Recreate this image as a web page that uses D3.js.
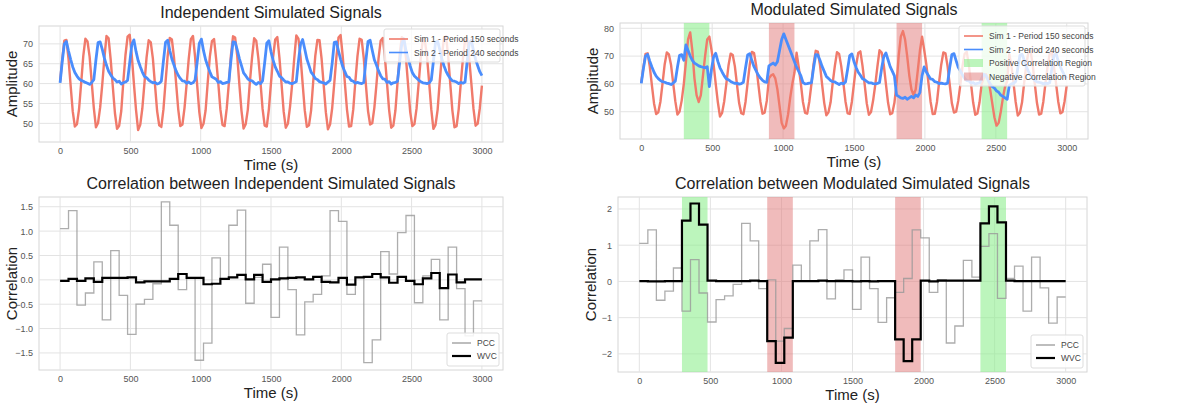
<!DOCTYPE html>
<html><head><meta charset="utf-8">
<script src="https://cdn.jsdelivr.net/npm/d3@7"></script>
<style>body{margin:0;background:#fff}svg{font-family:"Liberation Sans",Arial,sans-serif}</style>
</head><body><svg id="c" width="1189" height="403"></svg>
<script>
// time step 15 s for signals
const sim1 = [
60.5,66,70.8,71,66.2,59.5,53,49.2,49.8,53.6,
60.2,67,71.3,70.6,66.8,60.3,53.8,49,50.1,54,
59.8,66.4,72,71.4,66,59.2,52.6,48.6,49.4,53.1,
60.6,67.2,71.8,72.3,67,60,53.4,48.3,49.6,53.8,
60.1,66.6,70.9,70.4,66.3,59.7,53.1,49.5,49.1,53.5,
60.4,66.9,71.5,71.1,66.6,60.1,53.6,49.3,49.7,53.9,
59.9,66.3,71.2,72,66.7,59.6,52.9,48.8,49.9,53.3,
60.3,66.8,70.7,71.2,66.1,60.2,53.5,49.6,49.3,53.7,
60,67.1,71.9,71.6,66.9,59.8,53.2,48.7,49.8,53.4,
60.5,66.5,71.4,70.8,66.4,60.4,53.7,49.4,49.2,53.6,
60.2,66.7,71.1,71.7,66.5,59.9,53,48.9,49.9,54.1,
59.7,66.2,72.1,71.3,66.8,60,53.3,49.1,49.5,53.2,
60.4,67,71,70.9,66.2,59.5,52.8,48.5,49.7,53.8,
60.1,66.6,71.6,72.2,67,60.3,53.6,49.2,49.3,53.5,
60.6,66.9,71.3,71,66.3,59.7,53.1,49.7,50,53.9,
59.8,66.4,70.8,71.5,66.7,60.1,53.4,48.9,49.4,53.3,
60.3,67.2,71.7,71.2,66.4,59.6,52.9,49.3,49.8,53.7,
60,66.5,71.2,70.7,66.6,60.2,53.5,48.6,49.6,53.4,
60.5,66.8,71.5,71.9,66.9,59.9,53.2,49,49.3,53.6,
60.2,66.3,70.9,71.4,66.1,60,53.7,49.4,49.9,53.8,
59.5];
const sim2 = [
60.2,65.5,70,70.6,68.2,66.1,64.2,62.8,61.9,61.2,60.8,60.6,60.3,60.1,59.8,60.3,
61,66,70.3,70.5,68.6,66.4,64.6,63.1,62.2,61.4,61,60.4,60.6,59.9,60.2,60.4,
60.8,65.2,69.8,71,68.1,65.8,64.3,62.9,61.8,61.5,60.9,60.5,60.2,60.3,59.9,60.1,
60.6,65.7,70.4,70.9,68.4,66.2,64.7,63.2,62.1,61.3,60.7,60.6,60.1,60.4,60,60.2,
60.9,65.4,70.1,71.2,68.3,66,64.4,63,61.7,61.4,61.1,60.3,60.5,60,60.1,60.3,
60.4,65.8,70.5,70.4,68.5,66.3,64.5,62.7,62,61.2,60.8,60.7,60.2,59.8,60.3,60,
60.7,65.3,70.2,70.8,68,65.9,64.2,63.1,61.9,61.5,60.9,60.4,60.4,60.1,60,60.2,
60.5,65.6,69.9,71.1,68.7,66.2,64.6,62.9,62.2,61.3,61,60.5,60.3,60.2,59.9,60.4,
60.8,65.1,70.4,70.5,68.2,66.1,64.3,63,61.8,61.6,60.8,60.6,60.1,60.3,60.1,60,
60.3,65.9,70.6,70.9,68.4,66,64.7,63.2,62,61.2,61.1,60.3,60.5,59.9,60.2,60.3,
60.6,65.4,70,71.3,68.3,66.4,64.4,62.8,61.9,61.4,60.9,60.5,60.2,60.1,60,60.2,
60.9,65.6,70.3,70.7,68.6,66.2,64.5,63.1,62.1,61.3,60.7,60.6,60.4,60,60.3,60.1,
60.4,65.5,70.2,70.9,68.3,66.1,64.5,63,62];
// modulated overrides: start index -> values
const mod1 = {20:[60,68,76,78.5,72,62,56,53.5,56,63,70,76,77],
  60:[62,63,63.5,62,58,52,46,44,45,49,55,60,64],
  120:[60,70,77,79,76,70,63,58,56,58,65,72,77],
  160:[60,62,63.5,62,58,53,48,45,46,50,55,59,61]};
const mod2 = {20:[68.5,74,72,70,68.5,67.5,67,66.5,66.2,66,65.8,66.2,59],
  60:[66.5,67,67.5,66.8,68,72,76,78,76,74,72,70,68,66,64.5,63],
  120:[56,55.5,55,54.8,55.2,54.5,55,55.5,55,56,55.5,57,63],
  160:[62,63.5,63,61.5,60,59,58.5,57.5,57,56,55.5,55,54.5,59.5]};
// correlation windows of 60 s
const pcc = [1.05,1.42,-0.52,-0.27,0.37,-0.82,0.6,-0.32,-1.12,-0.5,-0.4,-0.08,1.6,1.12,-0.2,0.04,-1.65,-1.3,0.45,0.02,1.12,1.43,-0.48,0.05,0.32,-0.77,0.67,-0.2,-1.13,-0.45,-0.3,0.08,1.42,1.2,-0.3,0.05,-1.7,-1.23,0.58,0.12,0.97,1.32,-0.47,0.08,0.42,-0.82,0.67,-0.18,-1.15,-0.43];
const wvcInd = [-0.02,0.02,-0.02,0.03,-0.04,0.04,0.04,0.04,0.05,-0.05,-0.03,-0.03,-0.03,0.02,0.12,0.04,0.04,-0.09,-0.08,0.02,0.05,0.1,0.01,0.1,-0.04,0.01,0.03,0.04,0.05,0.01,0.06,-0.04,-0.05,0.04,-0.1,0.05,0.06,0.12,0.05,-0.06,0.06,-0.02,-0.09,0.03,0.14,-0.17,0.11,-0.05,0.01,0.01];
const wvcMod = [0.01,0,0,0.01,0.01,1.68,2.15,1.57,0.02,0.01,0.01,0.01,0.01,0.02,0.01,-1.65,-2.25,-1.55,0.01,0.01,0.01,0.02,0.01,0.01,0.01,0,0.01,0,0.01,0.01,-1.6,-2.2,-1.6,0.02,0,0.02,0.02,0.02,0.02,0.02,1.6,2.07,1.63,0.02,0.01,0.01,0.01,0.01,0.01,0.01];
const posRegions = [[300,480],[2400,2580]];
const negRegions = [[900,1080],[1800,1980]];
const xTicks = [0,500,1000,1500,2000,2500,3000];

const RED="#f07a6b", BLUE="#4a8dfc", GREEN="rgba(144,238,144,0.6)", NEG="rgba(225,120,120,0.5)";
const svg = d3.select("#c");
const step = 15, win = 60;
const s1m = sim1.slice(), s2m = sim2.slice();
for (const k in mod1) mod1[k].forEach((v,i)=>s1m[+k+i]=v);
for (const k in mod2) mod2[k].forEach((v,i)=>s2m[+k+i]=v);

function panel(o){
  const g = svg.append("g");
  const x = d3.scaleLinear().domain([-150,3150]).range([o.l,o.r]);
  const y = d3.scaleLinear().domain(o.yd).range([o.b,o.t]);
  g.append("rect").attr("x",o.l).attr("y",o.t).attr("width",o.r-o.l).attr("height",o.b-o.t).attr("fill","#fff").attr("stroke","#d6d6d6").attr("stroke-width",1);
  g.append("g").selectAll("line").data(xTicks).join("line").attr("x1",d=>x(d)).attr("x2",d=>x(d)).attr("y1",o.t).attr("y2",o.b).attr("stroke","#e3e3e3");
  g.append("g").selectAll("line").data(o.yt).join("line").attr("x1",o.l).attr("x2",o.r).attr("y1",d=>y(d)).attr("y2",d=>y(d)).attr("stroke","#e3e3e3");
  if (o.regions){
    posRegions.forEach(r=>g.append("rect").attr("x",x(r[0])).attr("width",x(r[1])-x(r[0])).attr("y",o.t).attr("height",o.b-o.t).attr("fill",GREEN));
    negRegions.forEach(r=>g.append("rect").attr("x",x(r[0])).attr("width",x(r[1])-x(r[0])).attr("y",o.t).attr("height",o.b-o.t).attr("fill",NEG));
  }
  const xa = d3.axisBottom(x).tickValues(xTicks).tickFormat(d3.format("d")).tickSize(0).tickPadding(6);
  g.append("g").attr("transform",`translate(0,${o.b})`).call(xa).call(a=>{a.select(".domain").remove();a.selectAll("text").attr("fill","#555").attr("font-size",9).attr("font-family","Liberation Sans");});
  const ya = d3.axisLeft(y).tickValues(o.yt).tickFormat(o.fmt).tickSize(0).tickPadding(6);
  g.append("g").attr("transform",`translate(${o.l},0)`).call(ya).call(a=>{a.select(".domain").remove();a.selectAll("text").attr("fill","#555").attr("font-size",9).attr("font-family","Liberation Sans");});
  g.append("text").attr("x",(o.l+o.r)/2).attr("y",o.t-8).attr("text-anchor","middle").attr("font-size",16).attr("fill","#222").text(o.title);
  g.append("text").attr("x",(o.l+o.r)/2).attr("y",o.b+28).attr("text-anchor","middle").attr("font-size",15).attr("fill","#222").text("Time (s)");
  g.append("text").attr("transform",`translate(${o.l-22},${(o.t+o.b)/2}) rotate(-90)`).attr("text-anchor","middle").attr("font-size",15).attr("fill","#222").text(o.ylab);
  return {g,x,y};
}
function sigPlot(o, a, b){
  const p = panel(o);
  const line = d3.line().x((d,i)=>p.x(i*step)).y(d=>p.y(d));
  p.g.append("path").datum(a).attr("d",line).attr("fill","none").attr("stroke",RED).attr("stroke-width",2.4).attr("stroke-linejoin","round");
  p.g.append("path").datum(b).attr("d",line).attr("fill","none").attr("stroke",BLUE).attr("stroke-width",2.8).attr("stroke-linejoin","round");
  const items = [["line",RED,"Sim 1 - Period 150 seconds"],["line",BLUE,"Sim 2 - Period 240 seconds"]];
  if (o.regions) items.push(["patch",GREEN,"Positive Correlation Region"],["patch",NEG,"Negative Correlation Region"]);
  const lw = o.regions?126:116, lh = 6+items.length*13.5;
  const lx = o.r-lw-3, ly = o.t+3;
  const L = p.g.append("g");
  L.append("rect").attr("x",lx).attr("y",ly).attr("width",lw).attr("height",lh).attr("fill","rgba(255,255,255,0.8)").attr("stroke","#ddd").attr("rx",2);
  items.forEach((it,i)=>{
    const yy = ly+10+i*13.5;
    if (it[0]=="line") L.append("line").attr("x1",lx+5).attr("x2",lx+24).attr("y1",yy).attr("y2",yy).attr("stroke",it[1]).attr("stroke-width",1.6);
    else L.append("rect").attr("x",lx+5).attr("y",yy-4).attr("width",19).attr("height",8).attr("fill",it[1]);
    L.append("text").attr("x",lx+30).attr("y",yy+3).attr("font-size",8.5).attr("fill","#444").text(it[2]);
  });
}
function corrPlot(o, w){
  const p = panel(o);
  const line = d3.line().curve(d3.curveStepAfter).x(d=>p.x(d[0])).y(d=>p.y(d[1]));
  const pd = pcc.map((v,i)=>[i*win,v]); pd.push([3000,pcc[pcc.length-1]]);
  const wd = w.map((v,i)=>[i*win,v]); wd.push([3000,w[w.length-1]]);
  p.g.append("path").datum(pd).attr("d",line).attr("fill","none").attr("stroke","#999").attr("stroke-opacity",0.8).attr("stroke-width",1.3);
  p.g.append("path").datum(wd).attr("d",line).attr("fill","none").attr("stroke","#000").attr("stroke-width",2.2);
  const lw=52, lh=33, lx=o.r-lw-4, ly=o.b-lh-4;
  const L = p.g.append("g");
  L.append("rect").attr("x",lx).attr("y",ly).attr("width",lw).attr("height",lh).attr("fill","rgba(255,255,255,0.85)").attr("stroke","#ddd").attr("rx",2);
  [["#999",1.3,"PCC"],["#000",2.2,"WVC"]].forEach((it,i)=>{
    const yy = ly+10+i*13;
    L.append("line").attr("x1",lx+5).attr("x2",lx+24).attr("y1",yy).attr("y2",yy).attr("stroke",it[0]).attr("stroke-width",it[1]);
    L.append("text").attr("x",lx+30).attr("y",yy+3).attr("font-size",8.5).attr("fill","#444").text(it[2]);
  });
}
sigPlot({l:39,r:503,t:26,b:142,yd:[45.3,74.5],yt:[50,55,60,65,70],fmt:d3.format("d"),title:"Independent Simulated Signals",ylab:"Amplitude"}, sim1, sim2);
sigPlot({l:620,r:1088,t:23,b:139,yd:[40.2,81.9],yt:[50,60,70,80],fmt:d3.format("d"),title:"Modulated Simulated Signals",ylab:"Amplitude",regions:true}, s1m, s2m);
corrPlot({l:39,r:503,t:197,b:370,yd:[-1.85,1.7],yt:[-1.5,-1,-0.5,0,0.5,1,1.5],fmt:d3.format(".1f"),title:"Correlation between Independent Simulated Signals",ylab:"Correlation"}, wvcInd);
corrPlot({l:618,r:1087,t:197,b:372,yd:[-2.5,2.33],yt:[-2,-1,0,1,2],fmt:d3.format("d"),title:"Correlation between Modulated Simulated Signals",ylab:"Correlation",regions:true}, wvcMod);
</script></body></html>
